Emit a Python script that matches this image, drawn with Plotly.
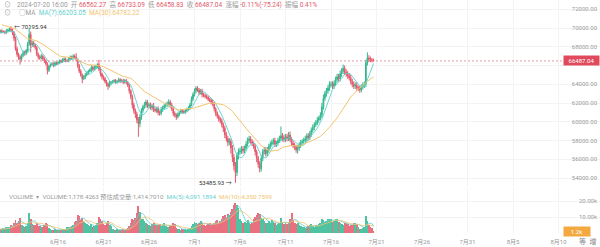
import pandas as pd
import numpy as np
import plotly.graph_objects as go

START = "2024-06-05 00:00"   # 4h candles, first 30 are warm-up for MA(30)
VIEW_START = "2024-06-10 00:00"
first_open = 70700

closes = [
    70800, 71000, 71200, 71100, 71300, 71100,   # Jun 5
    71000, 70900, 70800, 71000, 70700, 70800,   # Jun 6
    71200, 71400, 71300, 71500, 70500, 69400,   # Jun 7
    69300, 69400, 69300, 69500, 69400, 69300,   # Jun 8
    69400, 69300, 69500, 69600, 69700, 69600,   # Jun 9
    69600, 69500, 69700, 69800, 69900, 69750,   # Jun 10
    69500, 68900, 67800, 67200, 66900, 66700,   # Jun 11
    67100, 67400, 67300, 67600, 68300, 69300,   # Jun 12
    68200, 68400, 68200, 67900, 67200, 66900,   # Jun 13
    66800, 67000, 66700, 66500, 66200, 65500,   # Jun 14
    65900, 66100, 66200, 66000, 66300, 66200,   # Jun 15
    66300, 66500, 66400, 66600, 66700, 66500,   # Jun 16
    66500, 66700, 66900, 66800, 67000, 66900,   # Jun 17
    66600, 66000, 65400, 65000, 64600, 64800,   # Jun 18
    65000, 65200, 65400, 65500, 65800, 65600,   # Jun 19
    65800, 65900, 66100, 65600, 65100, 64800,   # Jun 20
    64600, 64300, 64000, 63800, 64100, 64200,   # Jun 21
    64300, 64400, 64200, 64300, 64500, 64300,   # Jun 22
    64400, 64200, 64400, 64200, 63900, 63300,   # Jun 23
    62700, 61800, 61200, 60800, 60200, 59800,   # Jun 24
    60500, 61200, 61600, 61800, 62100, 61700,   # Jun 25
    61800, 61500, 61700, 61300, 61200, 61400,   # Jun 26
    61000, 60900, 61300, 61500, 61700, 61800,   # Jun 27
    61900, 62100, 61800, 61400, 60900, 60700,   # Jun 28
    60500, 60800, 61000, 61200, 61100, 61000,   # Jun 29
    61200, 61300, 61500, 61800, 62400, 62900,   # Jun 30
    63300, 63600, 63400, 63100, 63300, 62900,   # Jul 1
    62800, 62700, 62600, 62400, 62300, 62100,   # Jul 2
    61900, 61400, 60900, 60600, 60300, 60100,   # Jul 3
    59700, 59300, 58600, 58200, 57800, 57900,   # Jul 4
    57200, 56200, 55300, 54600, 56400, 56800,   # Jul 5
    56900, 57100, 56900, 57200, 57600, 58000,   # Jul 6
    58200, 57900, 57700, 57400, 56800, 56100,   # Jul 7
    55500, 55000, 56100, 56800, 57000, 56600,   # Jul 8
    57000, 57400, 57600, 57800, 58000, 57600,   # Jul 9
    57700, 58000, 58200, 58500, 58300, 58100,   # Jul 10
    58400, 58200, 58600, 58100, 57700, 57500,   # Jul 11
    57300, 57000, 57200, 57500, 57800, 57900,   # Jul 12
    58000, 58200, 58500, 58300, 58700, 59100,   # Jul 13
    59400, 59700, 59900, 60200, 60400, 60700,   # Jul 14
    61600, 62500, 63000, 63300, 63600, 64000,   # Jul 15
    64000, 63800, 64100, 64500, 64800, 64600,   # Jul 16
    65100, 65400, 65700, 65300, 65100, 64900,   # Jul 17
    64700, 64300, 64000, 63800, 63900, 63600,   # Jul 18
    63600, 63400, 63700, 63900, 64000, 66300,   # Jul 19
    66800, 66700, 66600, 66562.27, 66487.04,    # Jul 20
]

up_wick = [
    150, 220, 130, 180, 160, 140,
    170, 120, 190, 150, 210, 130,
    160, 180, 140, 200, 230, 250,
    140, 120, 160, 110, 130, 150,
    120, 140, 110, 150, 130, 160,
    130, 150, 180, 140, 170, 295.94,
    200, 160, 180, 220, 150, 180,
    150, 210, 180, 160, 230, 700,
    320, 260, 210, 150, 190, 160,
    210, 250, 160, 190, 150, 140,
    150, 120, 160, 140, 170, 130,
    160, 140, 150, 180, 170, 140,
    150, 160, 170, 150, 210, 180,
    400, 150, 160, 200, 150, 170,
    200, 180, 150, 210, 230, 200,
    210, 180, 150, 500, 210, 150,
    150, 200, 160, 210, 250, 150,
    150, 140, 160, 150, 200, 150,
    160, 200, 150, 180, 150, 160,
    150, 200, 250, 210, 260, 300,
    310, 250, 220, 300, 260, 200,
    210, 250, 200, 300, 220, 200,
    250, 200, 260, 210, 200, 250,
    260, 300, 200, 220, 200, 210,
    200, 210, 150, 200, 160, 150,
    150, 200, 160, 210, 300, 220,
    250, 200, 190, 210, 200, 220,
    200, 210, 190, 200, 160, 200,
    210, 160, 150, 200, 160, 200,
    260, 210, 250, 300, 260, 350,
    300, 310, 350, 400, 320, 350,
    350, 300, 310, 260, 300, 310,
    300, 260, 250, 210, 250, 220,
    260, 300, 310, 300, 320, 300,
    310, 260, 300, 310, 260, 300,
    250, 300, 310, 1000, 300, 310,
    300, 320, 310, 350, 260, 250,
    250, 260, 300, 310, 250, 260,
    300, 310, 250, 300, 320, 300,
    310, 250, 260, 300, 250, 310,
    420, 400, 300, 310, 300, 320,
    300, 320, 300, 310, 320, 300,
    380, 330, 400, 300, 310, 300,
    300, 310, 300, 320, 300, 310,
    250, 260, 300, 310, 300, 320,
    600, 300, 250, 200, 170.82,
]

down_wick = [
    130, 110, 160, 140, 120, 150,
    140, 160, 120, 150, 170, 130,
    150, 120, 160, 140, 200, 300,
    130, 150, 120, 140, 160, 120,
    150, 120, 140, 110, 130, 150,
    140, 160, 120, 150, 130, 170,
    250, 300, 220, 260, 310, 600,
    300, 210, 250, 200, 160, 200,
    800, 210, 250, 210, 200, 260,
    200, 160, 210, 250, 200, 450,
    200, 130, 150, 180, 120, 140,
    130, 160, 140, 120, 150, 170,
    140, 150, 160, 200, 150, 160,
    150, 250, 210, 200, 500, 150,
    250, 150, 180, 150, 200, 180,
    150, 180, 200, 200, 250, 300,
    210, 200, 250, 400, 150, 200,
    150, 140, 160, 150, 120, 180,
    120, 180, 140, 200, 210, 300,
    300, 400, 310, 400, 350, 1400,
    400, 300, 250, 210, 300, 250,
    250, 210, 300, 250, 200, 250,
    300, 250, 210, 250, 200, 210,
    200, 250, 300, 260, 310, 250,
    300, 150, 200, 160, 200, 150,
    150, 200, 160, 200, 150, 210,
    210, 250, 200, 260, 200, 300,
    200, 210, 200, 210, 200, 250,
    250, 300, 310, 250, 300, 260,
    300, 400, 350, 310, 400, 300,
    600, 500, 500, 1114.07, 400, 410,
    300, 310, 300, 250, 260, 250,
    300, 250, 310, 300, 400, 410,
    400, 400, 300, 310, 300, 300,
    300, 310, 300, 250, 260, 300,
    300, 250, 260, 250, 400, 300,
    250, 300, 260, 250, 300, 310,
    300, 310, 400, 300, 310, 300,
    250, 260, 300, 310, 250, 300,
    260, 300, 250, 260, 300, 250,
    300, 310, 300, 320, 300, 310,
    310, 300, 320, 300, 310, 300,
    300, 320, 300, 310, 300, 320,
    300, 310, 320, 300, 310, 300,
    300, 310, 250, 260, 300, 310,
    300, 310, 250, 250, 28.21,
]

volumes = [
    4200, 3800, 4500, 5000, 4800, 4300,
    3900, 3600, 4100, 4700, 5200, 4000,
    3800, 4200, 4600, 5500, 9500, 8000,
    3500, 2800, 2500, 2700, 2400, 2200,
    2000, 1900, 2300, 2600, 2800, 2500,
    3200, 2800, 3500, 4000, 3800, 5000,      # Jun 10
    4500, 6500, 8200, 6000, 7800, 9300,
    5000, 4200, 3800, 4500, 6000, 12500,
    9000, 5500, 4800, 5200, 6000, 4500,
    4200, 3800, 4000, 5000, 6200, 5500,
    3000, 2200, 1800, 2000, 2400, 1900,
    1800, 1600, 2000, 2200, 2500, 2800,
    3500, 4000, 3800, 4500, 5200, 6800,
    7500, 11000, 10500, 8000, 9500, 7000,
    6500, 5500, 4800, 4200, 5500, 4000,
    4500, 5000, 6000, 10000, 8500, 7500,
    5500, 4800, 6000, 7200, 5000, 4200,
    2500, 2000, 1800, 2200, 2000, 1700,
    1800, 2200, 2000, 2400, 3000, 4500,
    6500, 9000, 8000, 9500, 12500, 17000,
    13000, 9000, 8500, 7500, 6000, 5500,
    5000, 4500, 5500, 6000, 4800, 5200,
    4800, 5500, 4200, 5000, 6000, 4500,
    4000, 3800, 4500, 5200, 6000, 5500,
    3000, 2500, 2200, 2000, 2400, 2600,
    2200, 2000, 2500, 3000, 4500, 5500,
    7000, 6500, 5500, 6500, 7200, 6000,      # Jul 1
    5000, 4500, 4800, 5500, 6000, 5200,
    5500, 6500, 7200, 8000, 6500, 7500,
    9000, 10500, 11000, 9500, 12000, 11500,
    13000, 15000, 17500, 19000, 17500, 15500,
    9000, 7500, 6500, 7000, 6000, 8000,
    6000, 5500, 6500, 8500, 10000, 11000,
    12500, 12000, 9500, 8500, 7500, 6500,
    6500, 7500, 6000, 8000, 7000, 6500,
    5000, 5500, 6000, 9500, 7000, 5500,
    6000, 5500, 7000, 8500, 12500, 8000,
    6500, 5500, 6000, 5000, 4500, 4000,
    3500, 3000, 3500, 4200, 5000, 5500,
    4500, 4000, 5000, 4500, 5500, 6000,
    8500, 8000, 7000, 7500, 8500, 9000,
    8500, 7000, 7500, 8500, 9000, 7000,
    6000, 5500, 5000, 6500, 6000, 5500,
    4500, 5000, 4800, 6000, 6500, 5500,
    4000, 2500, 2800, 3300, 3900, 10500,
    7500, 5000, 3800, 3000, 1178.4263,
]

tick_dates = ["2024-06-16", "2024-06-21", "2024-06-26", "2024-07-01", "2024-07-06",
              "2024-07-11", "2024-07-16", "2024-07-21", "2024-07-26", "2024-07-31",
              "2024-08-05", "2024-08-10"]
tick_labels = ["6月16", "6月21", "6月26", "7月1", "7月6", "7月11", "7月16",
               "7月21", "7月26", "7月31", "8月5", "8月10"]
price_ticks = [54000, 56000, 58000, 60000, 62000, 64000, 66000, 68000, 70000, 72000]

# ---------------------------------------------------------------- derived
t = pd.date_range(START, periods=len(closes), freq="4h")
opens = [first_open] + closes[:-1]
highs = [max(o, c) + u for o, c, u in zip(opens, closes, up_wick)]
lows = [min(o, c) - d for o, c, d in zip(opens, closes, down_wick)]
cs = pd.Series(closes)
ma7 = cs.rolling(7).mean()
ma30 = cs.rolling(30).mean()
vs = pd.Series(volumes)
vma5 = vs.rolling(5).mean()
vma10 = vs.rolling(10).mean()

GREEN = "#33b88f"
RED = "#e4586a"
VGREEN = "#4fc3a1"
VRED = "#e9707e"
TEAL = "#5fcfcf"
ORANGE = "#f3c46e"
GRID = "#f3f3f3"
GRAY = "#9a9a9a"
FONT = "Roboto, 'Noto Sans CJK SC', sans-serif"

W, H, B = 600, 247, 14
PH = H - B  # plot area height in px


def px(x):
    return x / W


def py(y):
    return 1 - y / PH


day_px = 9.1
view0 = pd.Timestamp(VIEW_START)
x_left = view0 - pd.Timedelta(days=3.4 / day_px)
x_right = view0 + pd.Timedelta(days=(W - 3.4) / day_px)

p_top = 70000 + 28 / 9.375 * 1000
p_bot = 70000 - (186 - 28) / 9.375 * 1000
v_top = 45 / 1.6 * 1000

last_close = closes[-1]
# tick label under the price box is hidden in the reference
price_text = ["" if abs(v - last_close) < 1000 else f"{v:.2f}" for v in price_ticks]

fig = go.Figure()
fig.add_trace(go.Candlestick(
    x=t, open=opens, high=highs, low=lows, close=closes,
    increasing=dict(line=dict(color=GREEN, width=1), fillcolor=GREEN),
    decreasing=dict(line=dict(color=RED, width=1), fillcolor=RED),
    whiskerwidth=0, xaxis="x", yaxis="y", showlegend=False, hoverinfo="skip"))
fig.add_trace(go.Scatter(x=t, y=ma7, mode="lines", line=dict(color=TEAL, width=0.9),
                         xaxis="x", yaxis="y", showlegend=False, hoverinfo="skip"))
fig.add_trace(go.Scatter(x=t, y=ma30, mode="lines", line=dict(color=ORANGE, width=1),
                         xaxis="x", yaxis="y", showlegend=False, hoverinfo="skip"))

vcolors = [VGREEN if c >= o else VRED for o, c in zip(opens, closes)]
fig.add_trace(go.Bar(x=t, y=volumes, marker=dict(color=vcolors, line=dict(width=0)),
                     width=4 * 3600 * 1000 * 0.62, xaxis="x", yaxis="y2",
                     showlegend=False, hoverinfo="skip"))
fig.add_trace(go.Scatter(x=t, y=vma5, mode="lines", line=dict(color=TEAL, width=0.8),
                         xaxis="x", yaxis="y2", showlegend=False, hoverinfo="skip"))
fig.add_trace(go.Scatter(x=t, y=vma10, mode="lines", line=dict(color=ORANGE, width=0.8),
                         xaxis="x", yaxis="y2", showlegend=False, hoverinfo="skip"))

fig.update_layout(
    width=W, height=H, margin=dict(l=0, r=0, t=0, b=B),
    paper_bgcolor="white", plot_bgcolor="white",
    font=dict(family=FONT, size=6, color=GRAY),
    showlegend=False, bargap=0,
    xaxis=dict(type="date", range=[x_left, x_right], rangeslider=dict(visible=False),
               anchor="y2", tickvals=tick_dates, ticktext=tick_labels,
               showgrid=True, gridcolor=GRID, gridwidth=1, zeroline=False,
               showline=False, ticks="outside", ticklen=3, tickcolor="rgba(0,0,0,0)",
               tickfont=dict(size=6, color=GRAY, family=FONT)),
    yaxis=dict(domain=[py(186), 1], range=[p_bot, p_top], side="right",
               ticklabelposition="inside", tickvals=price_ticks, ticktext=price_text,
               showgrid=True, gridcolor=GRID, zeroline=False, showline=False,
               tickfont=dict(size=6, color=GRAY, family=FONT), anchor="x"),
    yaxis2=dict(domain=[0, py(188)], range=[0, v_top], side="right",
                ticklabelposition="inside", tickvals=[10000, 20000],
                ticktext=["10.00k", "20.00k"], showgrid=True, gridcolor=GRID,
                zeroline=False, showline=False,
                tickfont=dict(size=6, color=GRAY, family=FONT), anchor="x"),
)

fig.add_shape(type="line", xref="paper", yref="y", x0=0, x1=px(564),
              y0=last_close, y1=last_close,
              line=dict(color="#e07080", width=0.7, dash="2px,2px"))

ann = []
ann.append(dict(xref="paper", yref="y", x=1, y=last_close, xanchor="right", yanchor="middle",
                text=f"{last_close:.2f}", showarrow=False, bgcolor="#e14a5c", width=33,
                borderpad=1, font=dict(color="white", size=6, family=FONT)))
ann.append(dict(xref="paper", yref="y2", x=px(591), y=volumes[-1], xanchor="right",
                yanchor="middle", text=f"{volumes[-1]/1000:.1f}k", showarrow=False,
                bgcolor="#f3a93f", width=24, borderpad=1,
                font=dict(color="white", size=6, family=FONT)))

vis = [i for i in range(len(t)) if t[i] >= view0]
ih = max(vis, key=lambda i: highs[i])
il = min(vis, key=lambda i: lows[i])
ann.append(dict(xref="x", yref="y", x=t[ih], y=highs[ih], xanchor="left", yanchor="middle",
                text=f"← {highs[ih]:.2f}", showarrow=False, xshift=1,
                font=dict(color="#333333", size=6, family=FONT)))
ann.append(dict(xref="x", yref="y", x=t[il], y=lows[il], xanchor="right", yanchor="middle",
                text=f"{lows[il]:.2f} →", showarrow=False, xshift=-1,
                font=dict(color="#333333", size=6, family=FONT)))


def red(s):
    return f'<span style="color:{RED}">{s}</span>'


SP = "&nbsp;"
line1 = ("2024-07-20 16:00" + SP + " 开 " + red("66562.27") + SP + " 高 " + red("66733.09") +
         SP + " 低 " + red("66458.83") + SP + " 收 " + red("66487.04") + SP + " 涨幅 " +
         red("-0.11%(-75.24)") + SP + " 振幅 " + red("0.41%"))
ann.append(dict(xref="paper", yref="paper", x=px(2), y=py(5), xanchor="left",
                yanchor="middle", text="⊙", showarrow=False,
                font=dict(color=GRAY, size=7, family=FONT)))
ann.append(dict(xref="paper", yref="paper", x=px(15), y=py(5), xanchor="left",
                yanchor="middle", text=line1, showarrow=False,
                font=dict(color=GRAY, size=6.5, family=FONT)))
line2 = (f'<span style="color:{GRAY}">○MA</span>' + SP * 2 +
         f'<span style="color:{TEAL}">MA(7):66203.05</span>' + SP * 2 +
         f'<span style="color:{ORANGE}">MA(30):64782.22</span>')
ann.append(dict(xref="paper", yref="paper", x=px(2), y=py(13), xanchor="left",
                yanchor="middle", text="⊙", showarrow=False,
                font=dict(color=GRAY, size=7, family=FONT)))
ann.append(dict(xref="paper", yref="paper", x=px(17), y=py(13), xanchor="left",
                yanchor="middle", text=line2, showarrow=False,
                font=dict(color=GRAY, size=6.5, family=FONT)))
line3 = ("VOLUME" + SP * 2 + "▾" + SP * 2 + "VOLUME:1,178.4263" + SP + "预估成交量:1,414.7010" + SP * 2 +
         f'<span style="color:{TEAL}">MA(5):4,091.1894</span>' + SP * 2 +
         f'<span style="color:{ORANGE}">MA(10):4,350.7599</span>')
ann.append(dict(xref="paper", yref="paper", x=px(7), y=py(196.5), xanchor="left",
                yanchor="middle", text=line3, showarrow=False,
                font=dict(color=GRAY, size=6.2, family=FONT)))
ann.append(dict(xref="paper", yref="paper", x=px(598), y=py(241.5), xanchor="right",
                yanchor="middle", text="等  增", showarrow=False,
                font=dict(color="#888888", size=7, family=FONT)))

fig.update_layout(annotations=ann)
fig.write_html("out.html")
